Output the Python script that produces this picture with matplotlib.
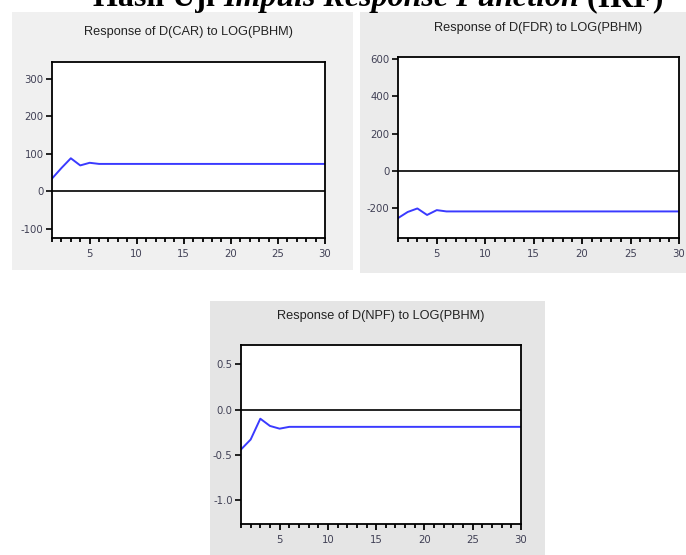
import matplotlib
matplotlib.use("Agg")
import matplotlib.pyplot as plt
from matplotlib.patches import Rectangle
from matplotlib.ticker import MultipleLocator

W, H = 686, 555

periods = list(range(1, 31))
car = [34, 62, 88, 69, 76, 73] + [73] * 24
fdr = [-255, -222, -203, -238, -212, -219] + [-219] * 24
npf = [-0.44, -0.33, -0.10, -0.18, -0.21, -0.19] + [-0.19] * 24

titles = ["Response of D(CAR) to LOG(PBHM)",
          "Response of D(FDR) to LOG(PBHM)",
          "Response of D(NPF) to LOG(PBHM)"]
yticks_car = [-100, 0, 100, 200, 300]
yticks_fdr = [-200, 0, 200, 400, 600]
yticks_npf = [-1.0, -0.5, 0.0, 0.5]

fig = plt.figure(figsize=(W / 100, H / 100), dpi=100)
fig.patch.set_facecolor("white")


def fr(l, t, r, b):
    return [l / W, 1 - b / H, (r - l) / W, (b - t) / H]


def panel(l, t, r, b, color):
    fig.patches.append(Rectangle((l / W, 1 - b / H), (r - l) / W, (b - t) / H,
                                 transform=fig.transFigure, facecolor=color,
                                 edgecolor="none", zorder=-5))


def irf(box, values, yticks, ylim, title, fmt, title_y):
    ax = fig.add_axes(fr(*box))
    ax.set_zorder(2)
    ax.plot(periods, values, color="#3a3aff", lw=1.4)
    ax.axhline(0, color="black", lw=1.2)
    ax.set_xlim(1, 30)
    ax.set_ylim(*ylim)
    ax.xaxis.set_major_locator(MultipleLocator(5))
    ax.xaxis.set_minor_locator(MultipleLocator(1))
    ax.set_yticks(yticks)
    ax.set_yticklabels([fmt.format(v) for v in yticks])
    ax.tick_params(axis="x", which="major", length=4, width=1.3, pad=4,
                   labelsize=7.3, labelcolor="#404055")
    ax.tick_params(axis="x", which="minor", length=2.6, width=1.3)
    ax.tick_params(axis="y", length=4.5, width=1.2, pad=1.5,
                   labelsize=7.3, labelcolor="#404055")
    for s in ax.spines.values():
        s.set_linewidth(1.3)
    l, t, r, b = box
    fig.text((l + r) / 2 / W, 1 - title_y / H, title, ha="center", va="center",
             fontsize=9.2, family="Liberation Sans", color="#222222")
    return ax


panel(12, 12, 353, 270, "#f0f0f0")
panel(360, 12, 686, 273, "#ebebeb")
panel(210, 301, 545, 555, "#e5e5e5")

irf((52, 62, 325, 238), car, yticks_car, (-124, 344), titles[0], "{:.0f}", 32)
irf((398, 57, 679, 238), fdr, yticks_fdr, (-362, 612), titles[1], "{:.0f}", 28)
irf((241, 345, 521, 524), npf, yticks_npf, (-1.263, 0.714), titles[2], "{:.1f}", 316)

# header, partly cut at the top like the original page
parts = [("Hasil Uji ", "normal"), ("Impuls Response Function", "italic"), (" (IRF)", "normal")]
fig.canvas.draw()
r = fig.canvas.get_renderer()
x = 93
for s, st in parts:
    t = fig.text(x / W, 1 - 6 / H, s, ha="left", va="baseline", fontsize=23,
                 family="Liberation Serif", weight="bold", style=st)
    bb = t.get_window_extent(renderer=r)
    x += bb.width

fig.savefig("out.png", dpi=100)
